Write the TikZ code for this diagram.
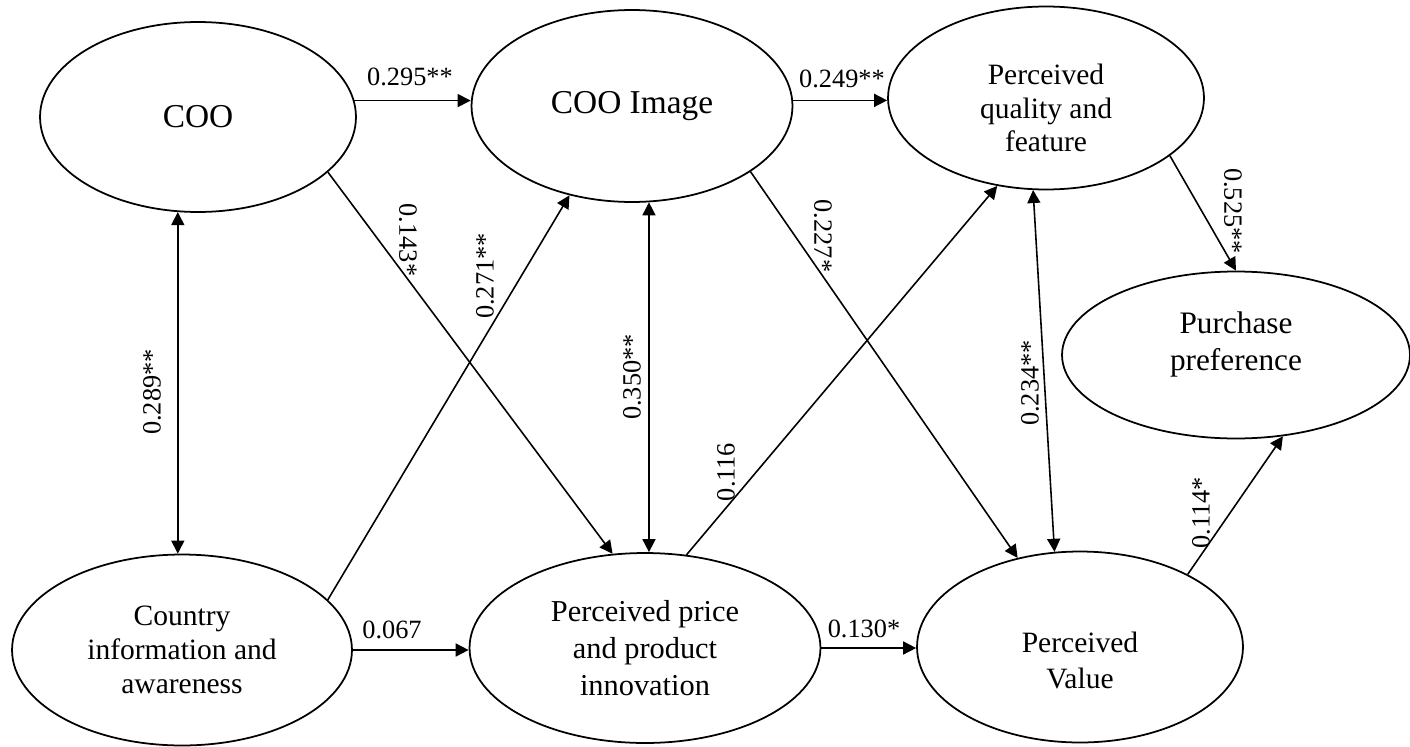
\documentclass[tikz,border=0pt]{standalone}
\usepackage{fontspec}
\setmainfont{Liberation Serif}
\usetikzlibrary{shapes.geometric,arrows.meta,calc}
\tikzset{
    latent/.style={
        draw=black, ellipse, line width=1pt, inner sep=0pt,
        align=center, font=\fontsize{16.8}{19.3}\selectfont
    },
    coef/.style={
        inner sep=0pt, font=\fontsize{15}{17}\selectfont
    },
    link/.style={
        -{Triangle[length=2.6mm,width=2.6mm]}, line width=0.9pt
    },
    dlink/.style={
        {Triangle[length=2.6mm,width=2.6mm]}-{Triangle[length=2.6mm,width=2.6mm]},
        line width=0.9pt
    }
}
\begin{document}
\begin{tikzpicture}[x=0.02cm, y=-0.02cm]
\useasboundingbox (0,0) rectangle (1410,747);
% constructs
\node[latent, minimum width=6.32cm, minimum height=3.8cm,
  font=\fontsize{19}{22}\selectfont] (coo) at (198,117) {COO};
\node[latent, minimum width=6.42cm, minimum height=3.84cm,
  font=\fontsize{19}{22}\selectfont] (img) at (632,106) {COO Image};
\node[latent, minimum width=6.32cm, minimum height=3.66cm]
  (pqf) at (1046,98) {\rule{0pt}{23pt}Perceived\\quality and\\feature};
\node[latent, minimum width=6.96cm, minimum height=3.34cm,
  font=\fontsize{17.8}{21}\selectfont] (pp) at (1236,355) {Purchase\\preference\rule[-16pt]{0pt}{16pt}};
\node[latent, minimum width=6.8cm, minimum height=3.82cm]
  (cia) at (182,650) {Country\\information and\\awareness};
\node[latent, minimum width=7.02cm, minimum height=3.8cm,
  font=\fontsize{17.3}{21}\selectfont] (ppi) at (645,648) {Perceived price\\and product\\innovation};
\node[latent, minimum width=6.52cm, minimum height=3.82cm,
  font=\fontsize{16.8}{21}\selectfont] (pv) at (1080,647) {\rule{0pt}{27pt}Perceived\\Value};
% coefficients
\node[coef] (c295) at (410,77) {0.295**};
\node[coef] (c249) at (842,79) {0.249**};
\node[coef, rotate=90] (c289) at (152,392) {0.289**};
\node[coef, rotate=-90] (c143) at (408,240) {0.143*};
\node[coef, rotate=90] (c271) at (485,276) {0.271**};
\node[coef, rotate=90] (c350) at (632,377) {0.350**};
\node[coef, rotate=-90] (c227) at (823,236) {0.227*};
\node[coef, rotate=90] (c116) at (726,472) {0.116};
\node[coef, rotate=90] (c234) at (1030,383) {0.234**};
\node[coef, rotate=-90] (c525) at (1233,211) {0.525**};
\node[coef, rotate=90] (c114) at (1201,513) {0.114*};
\node[coef] (c067) at (392,630) {0.067};
\node[coef] (c130) at (864,629) {0.130*};
% paths
\draw[link] (coo.6) -- (coo.6 -| img.west);
\draw[link] (img.2) -- (img.2 -| pqf.west);
\draw[dlink] (coo.258) -- (coo.258 |- cia.north);
\draw[link] (coo.-23) -- (ppi.109);
\draw[link] (cia.19) -- (img.235);
\draw[dlink] (img.-80) -- (img.-80 |- ppi.north);
\draw[link] (img.-29) -- (pv.125);
\draw[link] (ppi.66) -- (pqf.241);
\draw[dlink] (pqf.262) -- (pv.105);
\draw[link] (pqf.-25) -- (pp.north);
\draw[link] (cia.east) -- (cia.east -| ppi.west);
\draw[link] (ppi.east) -- (ppi.east -| pv.west);
\draw[link] (pv.34) -- (pp.-60);
\end{tikzpicture}
\end{document}
